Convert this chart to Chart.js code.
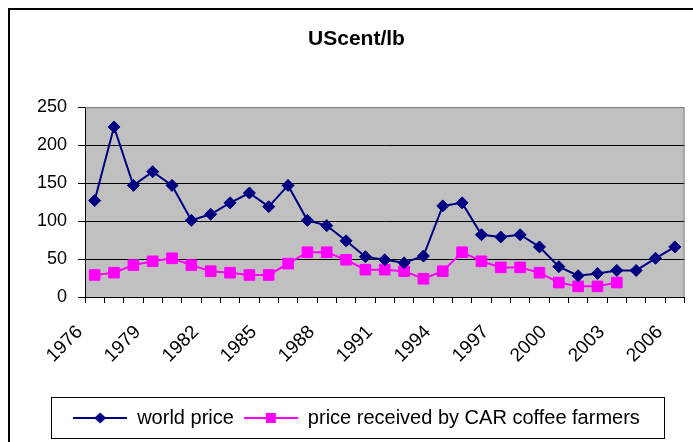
<!DOCTYPE html>
<html>
<head>
<meta charset="utf-8">
<script src="https://cdn.jsdelivr.net/npm/chart.js@4/dist/chart.umd.min.js"></script>
<style>
  html, body { margin: 0; padding: 0; background: #fff; }
  #wrap { width: 693px; height: 442px; }
</style>
</head>
<body>
<div id="wrap"><canvas id="grafico" width="693" height="442"></canvas></div>
<script>
// --- DADOS ---
const anos = ['1976','1977','1978','1979','1980','1981','1982','1983','1984','1985',
  '1986','1987','1988','1989','1990','1991','1992','1993','1994','1995',
  '1996','1997','1998','1999','2000','2001','2002','2003','2004','2005','2006'];

const precoMundial = [127, 224, 147, 165, 147, 101, 109, 124, 137, 119,
  147, 101, 94, 74, 53, 49, 45, 54, 120, 124,
  82, 79, 82, 66, 40, 28, 31, 35, 35, 51, 66];

const precoProdutores = [29, 32, 42, 47, 51, 42, 34, 32, 29, 29,
  44, 59, 59, 49, 36, 36, 34, 24, 34, 59,
  47, 39, 39, 32, 19, 14, 14, 19, null, null, null];

const nomesSeries = ['world price', 'price received by CAR coffee farmers'];
const coresSeries = ['#000080', '#FF00FF'];
const ticksY = [0, 50, 100, 150, 200, 250];

const fonte = "Arial, 'Liberation Sans', sans-serif";

// icone da legenda: linha com o marcador no meio
function criarIcone(cor, tipo) {
  const c = document.createElement('canvas');
  c.width = 54;
  c.height = 14;
  const ctx = c.getContext('2d');
  ctx.strokeStyle = cor;
  ctx.lineWidth = 2;
  ctx.beginPath();
  ctx.moveTo(0, 7);
  ctx.lineTo(54, 7);
  ctx.stroke();
  ctx.fillStyle = cor;
  ctx.beginPath();
  if (tipo === 'losango') {
    ctx.moveTo(27, 1.5); ctx.lineTo(33, 7); ctx.lineTo(27, 12.5); ctx.lineTo(21, 7);
  } else {
    ctx.rect(22, 2, 10, 10);
  }
  ctx.fill();
  return c;
}
const icones = [criarIcone(coresSeries[0], 'losango'), criarIcone(coresSeries[1], 'quadrado')];

// moldura externa, fundo cinza da area do grafico e caixa da legenda
const pluginMoldura = {
  id: 'moldura',
  beforeDraw(chart) {
    const { ctx, chartArea: a } = chart;
    ctx.save();
    ctx.strokeStyle = '#000';
    ctx.lineWidth = 2;
    ctx.strokeRect(9, 9, 720, 470);
    ctx.fillStyle = '#C0C0C0';
    ctx.fillRect(a.left, a.top, a.right - a.left, a.bottom - a.top);
    ctx.restore();
  },
  afterDraw(chart) {
    const { ctx, chartArea: a } = chart;
    ctx.save();
    ctx.strokeStyle = '#808080';
    ctx.lineWidth = 1;
    ctx.beginPath();
    ctx.moveTo(a.left, a.top + 0.5);
    ctx.lineTo(a.right - 0.5, a.top + 0.5);
    ctx.lineTo(a.right - 0.5, a.bottom);
    ctx.stroke();

    const caixas = chart.legend.legendHitBoxes;
    if (caixas && caixas.length) {
      const esq = caixas[0].left - 22;
      const ult = caixas[caixas.length - 1];
      const dir = ult.left + ult.width + 24;
      const topo = caixas[0].top - 11;
      const base = caixas[0].top + caixas[0].height + 10;
      ctx.strokeStyle = '#000';
      ctx.strokeRect(Math.round(esq) + 0.5, Math.round(topo) + 0.5, Math.round(dir - esq), Math.round(base - topo));
    }
    ctx.restore();
  }
};

new Chart(document.getElementById('grafico'), {
  type: 'line',
  data: {
    labels: anos,
    datasets: [
      {
        label: nomesSeries[0],
        data: precoMundial,
        borderColor: coresSeries[0],
        backgroundColor: coresSeries[0],
        borderWidth: 2,
        pointStyle: 'rectRot',
        pointRadius: 6,
        pointBorderWidth: 1,
        tension: 0
      },
      {
        label: nomesSeries[1],
        data: precoProdutores,
        borderColor: coresSeries[1],
        backgroundColor: coresSeries[1],
        borderWidth: 2,
        pointStyle: 'rect',
        pointRadius: 7.5,
        pointBorderWidth: 1,
        tension: 0,
        spanGaps: false
      }
    ]
  },
  options: {
    responsive: false,
    animation: false,
    devicePixelRatio: 1,
    layout: { padding: { left: 25, right: 5, top: 0, bottom: 4 } },
    scales: {
      x: {
        offset: true,
        afterFit: s => {
          s.height = 101;
          s.paddingLeft = 0;
          s.paddingRight = 0;
        },
        grid: {
          offset: true,
          drawOnChartArea: false,
          drawTicks: true,
          tickLength: 6,
          color: '#000'
        },
        border: { color: '#000', width: 1 },
        ticks: {
          autoSkip: false,
          maxRotation: 45,
          minRotation: 45,
          padding: 18,
          labelOffset: -15,
          color: '#000',
          font: { family: fonte, size: 19 },
          callback: (v, i) => (i % 3 === 0 ? anos[i] : '')
        }
      },
      y: {
        min: 0,
        max: 250,
        afterFit: s => { s.width = 60; },
        afterBuildTicks: s => { s.ticks = ticksY.map(v => ({ value: v })); },
        grid: {
          color: c => (c.tick && c.tick.value === 250 ? '#808080' : '#000'),
          lineWidth: 1,
          tickLength: 7,
          tickColor: '#000'
        },
        border: { color: '#000', width: 1 },
        ticks: {
          padding: 11,
          color: '#000',
          font: { family: fonte, size: 18 }
        }
      }
    },
    plugins: {
      title: {
        display: true,
        text: 'UScent/lb',
        color: '#000',
        font: { family: fonte, size: 21, weight: 'bold' },
        padding: { top: 27, bottom: 55 }
      },
      legend: {
        display: true,
        position: 'bottom',
        labels: {
          usePointStyle: true,
          pointStyleWidth: 54,
          padding: 10,
          color: '#000',
          font: { family: fonte, size: 20 },
          generateLabels: chart => chart.data.datasets.map((ds, i) => ({
            text: ds.label,
            pointStyle: icones[i],
            fillStyle: 'transparent',
            strokeStyle: 'transparent',
            lineWidth: 0,
            fontColor: '#000',
            hidden: false,
            datasetIndex: i
          }))
        }
      },
      tooltip: { enabled: false }
    }
  },
  plugins: [pluginMoldura]
});
</script>
</body>
</html>
